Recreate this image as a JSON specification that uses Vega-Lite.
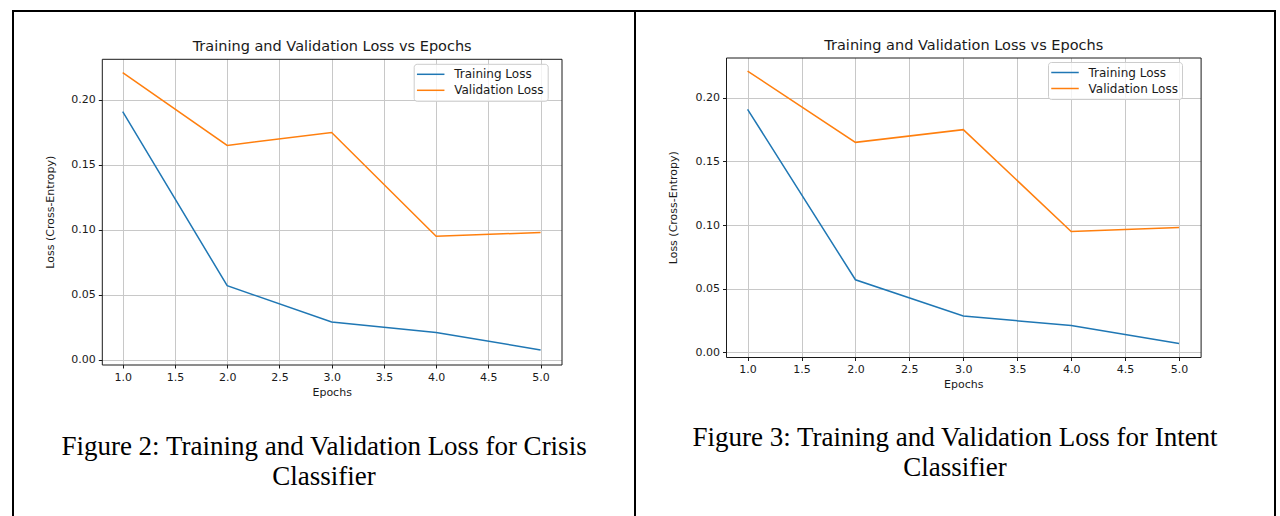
{
  "$schema": "https://vega.github.io/schema/vega-lite/v6.json",
  "padding": {"left": 12, "top": 10, "right": 0, "bottom": 0},
  "background": "white",
  "bounds": "flush",
  "spacing": 0,
  "resolve": {"scale": {"color": "independent"}, "legend": {"color": "independent"}},
  "config": {
    "font": "DejaVu Sans",
    "view": {"stroke": "#000000", "strokeWidth": 2},
    "axis": {
      "domainColor": "#1a1a1a", "domainWidth": 1,
      "tickColor": "#1a1a1a", "tickWidth": 1, "tickSize": 3.5,
      "labelPadding": 3, "labelFontSize": 11, "labelColor": "#1a1a1a", "labelFont": "DejaVu Sans",
      "labelFlush": false, "labelOverlap": false,
      "titleFont": "DejaVu Sans", "titleFontWeight": "normal", "titleFontSize": 11, "titleColor": "#1a1a1a",
      "gridColor": "#c8c8c8", "gridWidth": 1
    },
    "legend": {
      "orient": "none", "title": null,
      "symbolType": "M-2.5,0H2.5", "symbolSize": 121, "symbolStrokeWidth": 1.5,
      "symbolOffset": 6.5, "labelOffset": 17, "padding": 4, "rowPadding": 3,
      "strokeColor": "#cccccc", "fillColor": "rgba(255,255,255,0.8)", "cornerRadius": 3,
      "labelFontSize": 12, "labelFont": "DejaVu Sans", "labelColor": "#1a1a1a"
    },
    "title": {
      "font": "Liberation Serif", "fontSize": 27, "fontWeight": "normal", "color": "#000000",
      "orient": "bottom", "frame": "group", "anchor": "middle", "baseline": "alphabetic", "lineHeight": 30
    }
  },
  "datasets": {
    "crisis": [
      {"epoch": 1, "loss": 0.191, "series": "Training Loss"},
      {"epoch": 2, "loss": 0.057, "series": "Training Loss"},
      {"epoch": 3, "loss": 0.029, "series": "Training Loss"},
      {"epoch": 4, "loss": 0.021, "series": "Training Loss"},
      {"epoch": 5, "loss": 0.0075, "series": "Training Loss"},
      {"epoch": 1, "loss": 0.221, "series": "Validation Loss"},
      {"epoch": 2, "loss": 0.165, "series": "Validation Loss"},
      {"epoch": 3, "loss": 0.175, "series": "Validation Loss"},
      {"epoch": 4, "loss": 0.095, "series": "Validation Loss"},
      {"epoch": 5, "loss": 0.098, "series": "Validation Loss"}
    ],
    "intent": [
      {"epoch": 1, "loss": 0.191, "series": "Training Loss"},
      {"epoch": 2, "loss": 0.057, "series": "Training Loss"},
      {"epoch": 3, "loss": 0.0285, "series": "Training Loss"},
      {"epoch": 4, "loss": 0.021, "series": "Training Loss"},
      {"epoch": 5, "loss": 0.007, "series": "Training Loss"},
      {"epoch": 1, "loss": 0.221, "series": "Validation Loss"},
      {"epoch": 2, "loss": 0.165, "series": "Validation Loss"},
      {"epoch": 3, "loss": 0.175, "series": "Validation Loss"},
      {"epoch": 4, "loss": 0.095, "series": "Validation Loss"},
      {"epoch": 5, "loss": 0.098, "series": "Validation Loss"}
    ]
  },
  "hconcat": [
    {
      "width": 622,
      "height": 520,
      "data": {"name": "crisis"},
      "title": {"text": ["Figure 2: Training and Validation Loss for Crisis", "Classifier"], "offset": -97},
      "layer": [
        {
          "mark": {"type": "line", "strokeWidth": 1.5},
          "encoding": {
            "x": {
              "field": "epoch", "type": "quantitative",
              "scale": {"domain": [0.8, 5.2], "range": [88.8, 548.5], "nice": false, "zero": false},
              "axis": {"orient": "bottom", "offset": -166.5, "values": [1, 1.5, 2, 2.5, 3, 3.5, 4, 4.5, 5], "format": ".1f", "grid": false, "title": "Epochs", "titlePadding": 4}
            },
            "y": {
              "field": "loss", "type": "quantitative",
              "scale": {"domain": [-0.0037, 0.2317], "range": [353.5, 47.8], "nice": false, "zero": false},
              "axis": {"orient": "left", "offset": -88.8, "values": [0, 0.05, 0.1, 0.15, 0.2], "format": ".2f", "grid": true, "title": "Loss (Cross-Entropy)", "titlePadding": 15}
            },
            "color": {
              "field": "series", "type": "nominal",
              "scale": {"domain": ["Training Loss", "Validation Loss"], "range": ["#1f77b4", "#ff7f0e"]},
              "legend": {"legendX": 400.7, "legendY": 52.8}
            }
          }
        },
        {
          "mark": {"type": "line", "opacity": 0},
          "encoding": {
            "x": {"field": "epoch", "type": "quantitative", "axis": {"orient": "top", "offset": -47.8, "values": [1, 1.5, 2, 2.5, 3, 3.5, 4, 4.5, 5], "labels": false, "ticks": false, "grid": true, "title": "Training and Validation Loss vs Epochs", "titleFontSize": 14.5, "titlePadding": 5}},
            "y": {"field": "loss", "type": "quantitative", "axis": {"orient": "right", "offset": -73.5, "labels": false, "ticks": false, "grid": false, "title": null}},
            "detail": {"field": "series"}
          }
        }
      ],
      "resolve": {"axis": {"x": "independent", "y": "independent"}}
    },
    {
      "width": 640,
      "height": 520,
      "data": {"name": "intent"},
      "title": {"text": ["Figure 3: Training and Validation Loss for Intent", "Classifier"], "offset": -106.5},
      "layer": [
        {
          "mark": {"type": "line", "strokeWidth": 1.5},
          "encoding": {
            "x": {
              "field": "epoch", "type": "quantitative",
              "scale": {"domain": [0.8, 5.2], "range": [91, 565.6], "nice": false, "zero": false},
              "axis": {"orient": "bottom", "offset": -174, "values": [1, 1.5, 2, 2.5, 3, 3.5, 4, 4.5, 5], "format": ".1f", "grid": false, "title": "Epochs", "titlePadding": 4}
            },
            "y": {
              "field": "loss", "type": "quantitative",
              "scale": {"domain": [-0.0037, 0.2317], "range": [346, 46.5], "nice": false, "zero": false},
              "axis": {"orient": "left", "offset": -91, "values": [0, 0.05, 0.1, 0.15, 0.2], "format": ".2f", "grid": true, "title": "Loss (Cross-Entropy)", "titlePadding": 17}
            },
            "color": {
              "field": "series", "type": "nominal",
              "scale": {"domain": ["Training Loss", "Validation Loss"], "range": ["#1f77b4", "#ff7f0e"]},
              "legend": {"legendX": 413, "legendY": 51}
            }
          }
        },
        {
          "mark": {"type": "line", "opacity": 0},
          "encoding": {
            "x": {"field": "epoch", "type": "quantitative", "axis": {"orient": "top", "offset": -46.5, "values": [1, 1.5, 2, 2.5, 3, 3.5, 4, 4.5, 5], "labels": false, "ticks": false, "grid": true, "title": "Training and Validation Loss vs Epochs", "titleFontSize": 14.5, "titlePadding": 5}},
            "y": {"field": "loss", "type": "quantitative", "axis": {"orient": "right", "offset": -74.4, "labels": false, "ticks": false, "grid": false, "title": null}},
            "detail": {"field": "series"}
          }
        }
      ],
      "resolve": {"axis": {"x": "independent", "y": "independent"}}
    }
  ]
}
